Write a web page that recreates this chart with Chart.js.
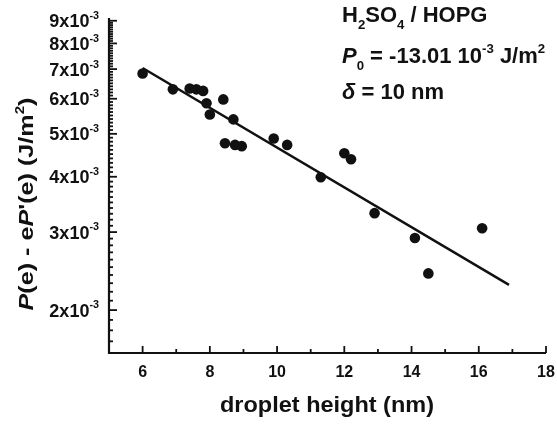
<!DOCTYPE html>
<html>
<head>
<meta charset="utf-8">
<script src="https://cdn.jsdelivr.net/npm/chart.js@4/dist/chart.umd.min.js"></script>
<style>
  html, body { margin: 0; padding: 0; background: #fff; }
  #wrap { width: 557px; height: 424px; }
</style>
</head>
<body>
<div id="wrap"><canvas id="dropChart" width="557" height="424"></canvas></div>
<script>
// droplet height (nm) and P(e) - eP'(e) (J/m2)
const heights = [6.0, 6.9, 7.4, 7.6, 7.8, 7.9, 8.0, 8.4, 8.7, 8.45, 8.75, 8.95, 9.9, 10.3, 11.3, 12.0, 12.2, 12.9, 14.1, 14.5, 16.1];
const pressures = [6.84e-3, 6.30e-3, 6.33e-3, 6.30e-3, 6.25e-3, 5.86e-3, 5.53e-3, 5.98e-3, 5.39e-3, 4.76e-3, 4.72e-3, 4.69e-3, 4.88e-3, 4.72e-3, 3.99e-3, 4.52e-3, 4.38e-3, 3.31e-3, 2.91e-3, 2.42e-3, 3.06e-3];

// exponential fit (delta = 10 nm), a straight line on the log axis
const fitHeights = [6.0, 16.9];
const fitPressures = [7.04e-3, 2.28e-3];

// axis ticks
const xTicks = [6, 8, 10, 12, 14, 16, 18];
const yTicks = [2, 3, 4, 5, 6, 7, 8, 9]; // times 10^-3

const FONT = '"Liberation Sans", Arial, sans-serif';

function setFont(ctx, size, italic) {
  ctx.font = (italic ? "italic " : "") + "bold " + size + "px " + FONT;
}

// parts: [{t: text, i: italic, s: "sub" | "sup"}]
function partsWidth(ctx, parts, size) {
  let w = 0;
  parts.forEach((p) => {
    setFont(ctx, p.s ? size * 0.6 : size, p.i);
    w += ctx.measureText(p.t).width;
  });
  return w;
}

function drawRich(ctx, parts, x, y, size, opts = {}) {
  const w = partsWidth(ctx, parts, size);
  const sx = opts.length ? opts.length / w : 1;
  const align = opts.align || 0; // 0 left, 0.5 center, 1 right
  ctx.save();
  ctx.translate(x, y);
  if (opts.rotate) ctx.rotate(opts.rotate);
  ctx.scale(sx, 1);
  ctx.fillStyle = "#111";
  ctx.textBaseline = "alphabetic";
  ctx.textAlign = "left";
  let cx = -w * align;
  parts.forEach((p) => {
    const fs = p.s ? size * 0.6 : size;
    setFont(ctx, fs, p.i);
    const dy = p.s === "sub" ? size * 0.32 : p.s === "sup" ? -size * 0.45 : 0;
    ctx.fillText(p.t, cx, dy);
    cx += ctx.measureText(p.t).width;
  });
  ctx.restore();
}

// axes, inward ticks and all labels
const axesPlugin = {
  id: "axesPlugin",
  afterDraw(chart) {
    const { ctx, chartArea, scales } = chart;
    const xs = scales.x;
    const ys = scales.y;
    const left = chartArea.left;
    const bottom = chartArea.bottom;

    ctx.save();
    ctx.strokeStyle = "#111";
    ctx.lineWidth = 2.2;
    ctx.beginPath();
    ctx.moveTo(left, chartArea.top);
    ctx.lineTo(left, bottom);
    ctx.lineTo(chartArea.right, bottom);
    ctx.stroke();

    // y ticks every 0.1e-3
    ctx.lineWidth = 1.8;
    for (let k = 16; k <= 90; k++) {
      const py = ys.getPixelForValue(k * 1e-4);
      const len = k % 10 === 0 ? 8 : 4;
      ctx.beginPath();
      ctx.moveTo(left, py);
      ctx.lineTo(left + len, py);
      ctx.stroke();
    }
    // x ticks every 1 nm
    for (let v = 6; v <= 18; v++) {
      const px = xs.getPixelForValue(v);
      const len = v % 2 === 0 ? 7 : 4;
      ctx.beginPath();
      ctx.moveTo(px, bottom);
      ctx.lineTo(px, bottom - len);
      ctx.stroke();
    }
    ctx.restore();

    yTicks.forEach((t) => {
      const py = ys.getPixelForValue(t * 1e-3);
      drawRich(ctx, [{ t: t + "x10" }, { t: "-3", s: "sup" }], 99, py + 6.5, 18, { align: 1 });
    });
    xTicks.forEach((t) => {
      const px = xs.getPixelForValue(t);
      drawRich(ctx, [{ t: String(t) }], px, 377, 16, { align: 0.5 });
    });

    drawRich(ctx, [{ t: "droplet height (nm)" }], 327, 412, 22, { align: 0.5, length: 214 });
    drawRich(
      ctx,
      [{ t: "P", i: true }, { t: "(e) - e" }, { t: "P", i: true }, { t: "'(e) (J/m" }, { t: "2", s: "sup" }, { t: ")" }],
      33, 204, 20,
      { align: 0.5, rotate: -Math.PI / 2, length: 213 }
    );

    drawRich(ctx, [{ t: "H" }, { t: "2", s: "sub" }, { t: "SO" }, { t: "4", s: "sub" }, { t: " / HOPG" }], 342, 22, 22);
    drawRich(
      ctx,
      [{ t: "P", i: true }, { t: "0", s: "sub" }, { t: " = -13.01 10" }, { t: "-3", s: "sup" }, { t: " J/m" }, { t: "2", s: "sup" }],
      342, 63, 22
    );
    drawRich(ctx, [{ t: "\u03b4", i: true }, { t: " = 10 nm" }], 342, 99, 22);
  },
};

const ctx = document.getElementById("dropChart").getContext("2d");
new Chart(ctx, {
  type: "scatter",
  data: {
    datasets: [
      {
        label: "data",
        data: heights.map((h, i) => ({ x: h, y: pressures[i] })),
        backgroundColor: "#111",
        borderWidth: 0,
        pointRadius: 5.3,
      },
      {
        label: "fit",
        data: fitHeights.map((h, i) => ({ x: h, y: fitPressures[i] })),
        showLine: true,
        borderColor: "#111",
        borderWidth: 2.5,
        pointRadius: 0,
      },
    ],
  },
  options: {
    responsive: false,
    devicePixelRatio: 1,
    animation: false,
    layout: { padding: { left: 109, right: 11, top: 18, bottom: 71 } },
    plugins: { legend: { display: false }, tooltip: { enabled: false } },
    scales: {
      x: { type: "linear", min: 5, max: 18, display: false },
      y: { type: "logarithmic", min: 1.6e-3, max: 9.13e-3, display: false },
    },
  },
  plugins: [axesPlugin],
});
</script>
</body>
</html>
